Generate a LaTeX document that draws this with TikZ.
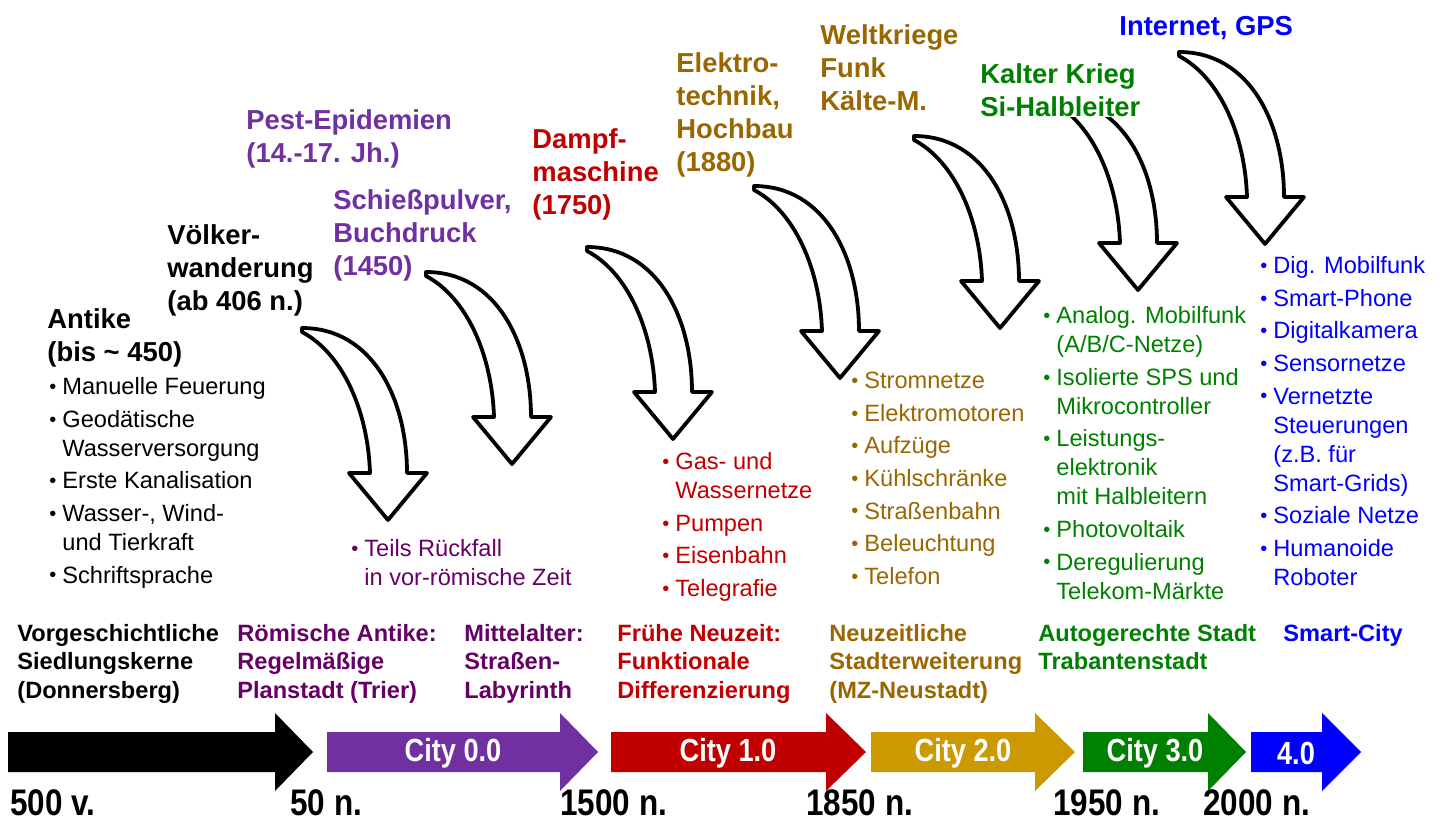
\documentclass[tikz,border=0pt]{standalone}
\usepackage{fontspec}
\setmainfont{Liberation Sans}
\newfontfamily\narrowfont[FakeStretch=0.85]{Liberation Sans}
\usetikzlibrary{positioning}

\definecolor{cpurple}{HTML}{7030A0}
\definecolor{cdarkpurple}{HTML}{660066}
\definecolor{cred}{HTML}{C00000}
\definecolor{cgold}{HTML}{CC9900}
\definecolor{cbrown}{HTML}{996600}
\definecolor{cgreen}{HTML}{008000}
\definecolor{cblue}{HTML}{0000FF}

\newcommand{\itm}{\makebox[6.5pt][l]{\raisebox{0.6pt}{\fontsize{10}{10}\selectfont\textbullet}}}
\newcommand{\cnt}{\hspace*{6.5pt}}

\tikzset{
  tophead/.style={anchor=north west,inner sep=0pt,align=left,font=\bfseries\fontsize{13.7}{16.5}\selectfont},
  itemlist/.style={anchor=north west,inner sep=0pt,align=left,font=\fontsize{11.8}{14.5}\selectfont},
  epoch/.style={anchor=north west,inner sep=0pt,align=left,font=\bfseries\fontsize{11.8}{14.25}\selectfont},
  yearlabel/.style={anchor=base west,inner sep=0pt,font=\narrowfont\bfseries\fontsize{18.5}{20}\selectfont},
  citylabel/.style={inner sep=0pt,text=white,font=\narrowfont\bfseries\fontsize{16}{18}\selectfont},
  bendarrow/.pic={
    \draw[line width=1.9pt,fill=white,line join=round]
      (0,0) .. controls (70,0) and (105,70) .. (105,145) -- (125,145)
      -- (86,192) -- (47,145) -- (68,145)
      .. controls (66,82) and (40,25) .. (0,4) -- cycle;
  }
}

\begin{document}
\begin{tikzpicture}[x=0.5pt,y=-0.5pt]
\useasboundingbox (0,0) rectangle (1440,820);

% curved arrows
\pic at (302,328) {bendarrow};
\pic at (426,272) {bendarrow};
\pic at (587,247) {bendarrow};
\pic at (754,186) {bendarrow};
\pic at (914,136) {bendarrow};
\pic at (1052,98) {bendarrow};
\pic at (1179,52) {bendarrow};

% time line
\fill[black] (8,732) -- (275,732) -- (275,713) -- (313,752) -- (275,791) -- (275,772) -- (8,772) -- cycle;
\fill[cpurple] (327,732) -- (560,732) -- (560,713) -- (598,752) -- (560,791) -- (560,772) -- (327,772) -- cycle;
\fill[cred] (611,732) -- (826,732) -- (826,713) -- (866,752) -- (826,791) -- (826,772) -- (611,772) -- cycle;
\fill[cgold] (871,732) -- (1035,732) -- (1035,713) -- (1075,752) -- (1035,791) -- (1035,772) -- (871,772) -- cycle;
\fill[cgreen] (1083,732) -- (1208,732) -- (1208,713) -- (1246,752) -- (1208,791) -- (1208,772) -- (1083,772) -- cycle;
\fill[cblue] (1251,732) -- (1322,732) -- (1322,713) -- (1361,752) -- (1322,791) -- (1322,772) -- (1251,772) -- cycle;

\node[citylabel] (city0) at (453,753) {City 0.0};
\node[citylabel] (city1) at (728,753) {City 1.0};
\node[citylabel] (city2) at (963,753) {City 2.0};
\node[citylabel] (city3) at (1155,753) {City 3.0};
\node[citylabel] (city4) at (1296,753) {4.0};

% years
\node[yearlabel] (y500) at (10,815) {500 v.};
\node[yearlabel] (y50) at (290,815) {50 n.};
\node[yearlabel] (y1500) at (560,815) {1500 n.};
\node[yearlabel] (y1850) at (806,815) {1850 n.};
\node[yearlabel] (y1950) at (1053,815) {1950 n.};
\node[yearlabel] (y2000) at (1203,815) {2000 n.};

% epochs
\node[epoch] (vorg) at (17,621) {\strut Vorgeschichtliche\\Siedlungskerne\\(Donnersberg)};
\node[epoch,text=cdarkpurple] (roem) at (237,621) {\strut Römische Antike:\\Regelmäßige\\Planstadt (Trier)};
\node[epoch,text=cdarkpurple] (mittel) at (464,621) {\strut Mittelalter:\\Straßen-\\Labyrinth};
\node[epoch,text=cred] (fruehe) at (617,621) {\strut Frühe Neuzeit:\\Funktionale\\Differenzierung};
\node[epoch,text=cbrown] (neuzeit) at (829,621) {\strut Neuzeitliche\\Stadterweiterung\\(MZ-Neustadt)};
\node[epoch,text=cgreen] (autog) at (1038,621) {\strut Autogerechte Stadt\\Trabantenstadt};
\node[epoch,text=cblue] (smart) at (1283,621) {\strut Smart-City};

% innovations
\node[tophead] (antike) at (47,305) {\strut Antike\\(bis \textasciitilde\ 450)};
\node[tophead] (voelker) at (167,221) {\strut Völker-\\wanderung\\(ab 406 n.)};
\node[tophead,text=cpurple] (pest) at (246,106) {\strut Pest-Epidemien\\(14.-17. Jh.)};
\node[tophead,text=cpurple] (pulver) at (333,186) {\strut Schießpulver,\\Buchdruck\\(1450)};
\node[tophead,text=cred] (dampf) at (532,125) {\strut Dampf-\\maschine\\(1750)};
\node[tophead,text=cbrown] (elektro) at (676,49) {\strut Elektro-\\technik,\\Hochbau\\(1880)};
\node[tophead,text=cbrown] (welt) at (820,21) {\strut Weltkriege\\Funk\\Kälte-M.};
\node[tophead,text=cgreen,fill=white] (kalt) at (980,60) {\strut Kalter Krieg\\Si-Halbleiter};
\node[tophead,text=cblue] (inet) at (1119,12) {\strut Internet, GPS};

% consequences
\node[itemlist] (antikeList) at (49,374) {\strut\itm Manuelle Feuerung\\[1.8pt]
  \itm Geodätische\\ \cnt Wasserversorgung\\[1.8pt]
  \itm Erste Kanalisation\\[1.8pt]
  \itm Wasser-, Wind-\\ \cnt und Tierkraft\\[1.8pt]
  \itm Schriftsprache};
\node[itemlist,text=cdarkpurple] (mittelList) at (351,536) {\strut\itm Teils Rückfall\\ \cnt in vor-römische Zeit};
\node[itemlist,text=cred] (dampfList) at (662,449) {\strut\itm Gas- und\\ \cnt Wassernetze\\[1.8pt]
  \itm Pumpen\\[1.8pt]
  \itm Eisenbahn\\[1.8pt]
  \itm Telegrafie};
\node[itemlist,text=cbrown] (elektroList) at (851,368) {\strut\itm Stromnetze\\[1.8pt]
  \itm Elektromotoren\\[1.8pt]
  \itm Aufzüge\\[1.8pt]
  \itm Kühlschränke\\[1.8pt]
  \itm Straßenbahn\\[1.8pt]
  \itm Beleuchtung\\[1.8pt]
  \itm Telefon};
\node[itemlist,text=cgreen] (kaltList) at (1043,303) {\strut\itm Analog. Mobilfunk\\ \cnt (A/B/C-Netze)\\[1.8pt]
  \itm Isolierte SPS und\\ \cnt Mikrocontroller\\[1.8pt]
  \itm Leistungs-\\ \cnt elektronik\\ \cnt mit Halbleitern\\[1.8pt]
  \itm Photovoltaik\\[1.8pt]
  \itm Deregulierung\\ \cnt Telekom-Märkte};
\node[itemlist,text=cblue] (inetList) at (1260,253) {\strut\itm Dig. Mobilfunk\\[1.8pt]
  \itm Smart-Phone\\[1.8pt]
  \itm Digitalkamera\\[1.8pt]
  \itm Sensornetze\\[1.8pt]
  \itm Vernetzte\\ \cnt Steuerungen\\ \cnt (z.B. für\\ \cnt Smart-Grids)\\[1.8pt]
  \itm Soziale Netze\\[1.8pt]
  \itm Humanoide\\ \cnt Roboter};
\end{tikzpicture}
\end{document}
